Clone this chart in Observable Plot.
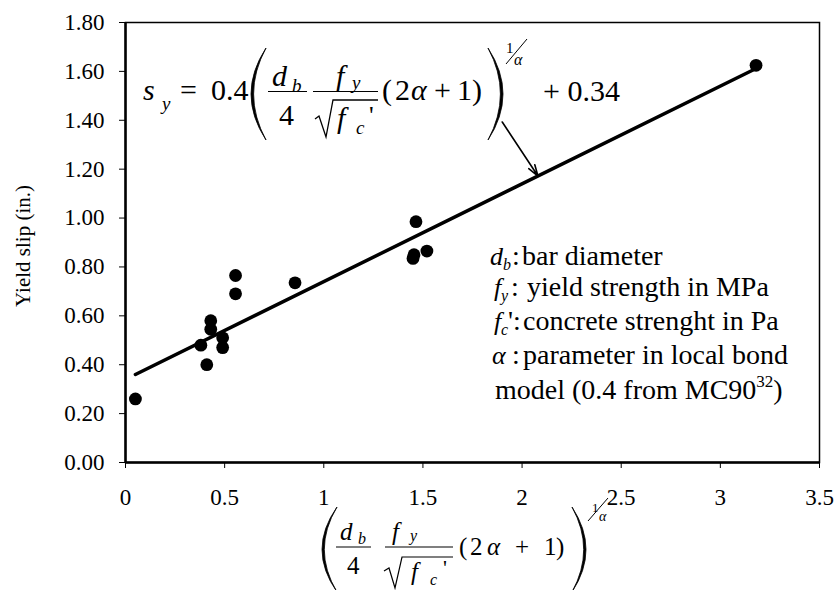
<!DOCTYPE html>
<html>
<head>
<meta charset="utf-8">
<script src="https://cdn.jsdelivr.net/npm/d3@7"></script>
<script src="https://cdn.jsdelivr.net/npm/@observablehq/plot@0.6"></script>
<style>
  html, body { margin: 0; padding: 0; background: #fff; }
  #chart { width: 839px; height: 590px; }
  #chart svg text { font-family: 'Liberation Serif', 'Times New Roman', Times, serif; }
</style>
</head>
<body>
<div id="chart"></div>
<script>
// Test specimens: normalized bond term (x) against measured yield slip in inches (y)
const bondTerm  = [0.05, 0.38, 0.41, 0.43, 0.43, 0.49, 0.49, 0.555, 0.555, 0.855, 1.45, 1.455, 1.465, 1.52, 3.18];
const yieldSlip = [0.26, 0.48, 0.40, 0.58, 0.545, 0.51, 0.47, 0.765, 0.69, 0.735, 0.835, 0.85, 0.985, 0.865, 1.625];

// Proposed model s_y = 0.4 * term + 0.34, drawn over the tested range
const modelSlope = 0.4;
const modelIntercept = 0.34;
const modelRange = [0.05, 3.18];

// Pointer from the equation to the model line
const pointerFrom = [1.90, 1.393];
const pointerTo = [2.08, 1.172];

// Axis ticks
const xTicks = [0, 0.5, 1, 1.5, 2, 2.5, 3, 3.5];
const yTicks = [0, 0.2, 0.4, 0.6, 0.8, 1.0, 1.2, 1.4, 1.6, 1.8];
const yTitle = "Yield slip (in.)";

const specimens = bondTerm.map((x, i) => ({x, y: yieldSlip[i]}));
const modelLine = modelRange.map(x => ({x, y: modelSlope * x + modelIntercept}));
const pointer = [{x1: pointerFrom[0], y1: pointerFrom[1], x2: pointerTo[0], y2: pointerTo[1]}];

const SERIF = "'Liberation Serif', 'Times New Roman', Times, serif";

const chart = Plot.plot({
  width: 839,
  height: 590,
  marginLeft: 125,
  marginRight: 20,
  marginTop: 22,
  marginBottom: 128,
  style: {fontFamily: SERIF, fontSize: "23px", color: "#000", background: "#fff"},
  x: {domain: [0, 3.5]},
  y: {domain: [0, 1.8]},
  marks: [
    Plot.axisY(yTicks, {tickSize: 6, tickPadding: 15, tickFormat: d3.format(".2f"), fontSize: 23, fontFamily: SERIF, label: null}),
    Plot.axisX(xTicks, {tickSize: 6, tickPadding: 20, tickFormat: d => String(d), fontSize: 23, fontFamily: SERIF, label: null}),
    Plot.frame({stroke: "#000", strokeWidth: 1.5}),
    Plot.ruleX([0], {stroke: "#000", strokeWidth: 2.5}),
    Plot.ruleY([0], {stroke: "#000", strokeWidth: 2.5}),
    Plot.line(modelLine, {x: "x", y: "y", stroke: "#000", strokeWidth: 3.5}),
    Plot.dot(specimens, {x: "x", y: "y", r: 6.4, fill: "#000"}),
    Plot.arrow(pointer, {x1: "x1", y1: "y1", x2: "x2", y2: "y2", stroke: "#000", strokeWidth: 1.6, headLength: 11, headAngle: 36})
  ]
});

document.getElementById("chart").appendChild(chart);

// Typeset labels, equations and the symbol glossary
const svg = d3.select(chart);
const g = svg.append("g")
  .attr("font-family", SERIF)
  .attr("text-anchor", "start")
  .attr("fill", "#000");

function put(x, y, str, size, italic) {
  return g.append("text")
    .attr("x", x).attr("y", y)
    .attr("font-size", size)
    .attr("font-style", italic ? "italic" : "normal")
    .text(str);
}
function hline(x1, x2, y, w) {
  g.append("line").attr("x1", x1).attr("x2", x2).attr("y1", y).attr("y2", y)
    .attr("stroke", "#000").attr("stroke-width", w || 1.2);
}
function stroke(points, w) {
  g.append("path").attr("d", d3.line()(points))
    .attr("fill", "none").attr("stroke", "#000").attr("stroke-width", w || 1.2)
    .attr("stroke-linejoin", "miter");
}
// Tall bracket as a crescent: tips at xTip, widest at xBulge
function bracket(xTip, xBulge, top, bottom, thick) {
  const mid = (top + bottom) / 2;
  const dir = Math.sign(xBulge - xTip);
  const c1 = 2 * xBulge - xTip;
  const c2 = 2 * (xBulge - dir * thick) - xTip;
  const p = `M${xTip},${top} Q${c1},${mid} ${xTip},${bottom} Q${c2},${mid} ${xTip},${top} Z`;
  g.append("path").attr("d", p).attr("fill", "#000").attr("stroke", "#000").attr("stroke-width", 0.8);
}

// y-axis title, centred on the plot frame
const frameMidY = (chart.scale("y").apply(0) + chart.scale("y").apply(1.8)) / 2;
g.append("text")
  .attr("transform", `translate(23,${frameMidY + 4}) rotate(-90)`)
  .attr("text-anchor", "middle")
  .attr("dominant-baseline", "central")
  .attr("font-size", 21)
  .text(yTitle);

// s_y = 0.4 ( d_b/4 · f_y/√f_c' (2α + 1) )^(1/α) + 0.34
put(143, 100, "s", 30, true);
put(162, 110, "y", 19, true);
put(180, 100, "=", 30);
put(211, 100, "0.4", 30);
bracket(266, 251, 48, 140, 2.6);
put(272, 86, "d", 30, true);
put(292, 92, "b", 19, true);
hline(268, 307, 91.5);
put(279, 125, "4", 30);
put(336, 86, "f", 30, true);
put(352, 89, "y", 19, true);
hline(313, 378, 91.5);
stroke([[315, 119], [319, 116], [326, 137], [333, 100], [378, 100]], 1.3);
put(337, 128, "f", 30, true);
put(356, 134, "c", 19, true);
put(369, 124, "'", 26);
put(382, 100, "(", 30);
put(395, 100, "2", 30);
put(411, 100, "α", 30, true);
put(434, 100, "+", 30);
put(457, 100, "1", 30);
put(472, 100, ")", 30);
bracket(488, 503, 48, 140, 2.6);
put(506, 53, "1", 15);
stroke([[506, 64], [527, 39]], 1);
put(514, 65, "α", 16, true);
put(543, 101, "+ 0.34", 30);

// x-axis title: ( d_b/4 · f_y/√f_c' (2α + 1) )^(1/α)
bracket(337, 322, 507, 592, 2.3);
put(340, 540, "d", 25, true);
put(358, 544, "b", 16, true);
hline(336, 371, 547);
put(347, 574, "4", 25);
put(392, 540, "f", 25, true);
put(410, 541, "y", 16, true);
hline(385, 453, 547);
stroke([[384, 571], [389, 568], [395, 588], [402, 557], [453, 557]], 1.2);
put(411, 580, "f", 25, true);
put(430, 585, "c", 16, true);
put(443, 575, "'", 22);
put(459, 555, "(", 25);
put(470, 555, "2", 25);
put(487, 555, "α", 25, true);
put(515, 555, "+", 25);
put(544, 555, "1", 25);
put(556, 555, ")", 25);
bracket(572, 586, 507, 592, 2.3);
put(592, 512, "1", 13);
stroke([[588, 521], [608, 498]], 1);
put(599, 521, "α", 14, true);

// Symbol glossary
const FS = 28, SYM = 26, SUB = 16;
put(490, 265, "d", SYM, true);
put(503, 270, "b", SUB, true);
put(512, 265, ":", FS);
put(522, 265, "bar diameter", FS);

put(494, 296, "f", SYM, true);
put(501, 301, "y", SUB, true);
put(511, 296, ":", FS);
put(527, 296, "yield strength in MPa", FS);

put(494, 330, "f", SYM, true);
put(501, 335, "c", SUB, true);
put(508, 330, "':", FS);
put(523, 330, "concrete strenght in Pa", FS);

put(492, 364, "α", SYM, true);
put(512, 364, ":", FS);
put(523, 364, "parameter in local bond", FS);

const last = put(495, 399, "model (0.4 from MC90", FS);
last.append("tspan").attr("font-size", 17).attr("dy", -12).text("32");
last.append("tspan").attr("dy", 12).text(")");
</script>
</body>
</html>
